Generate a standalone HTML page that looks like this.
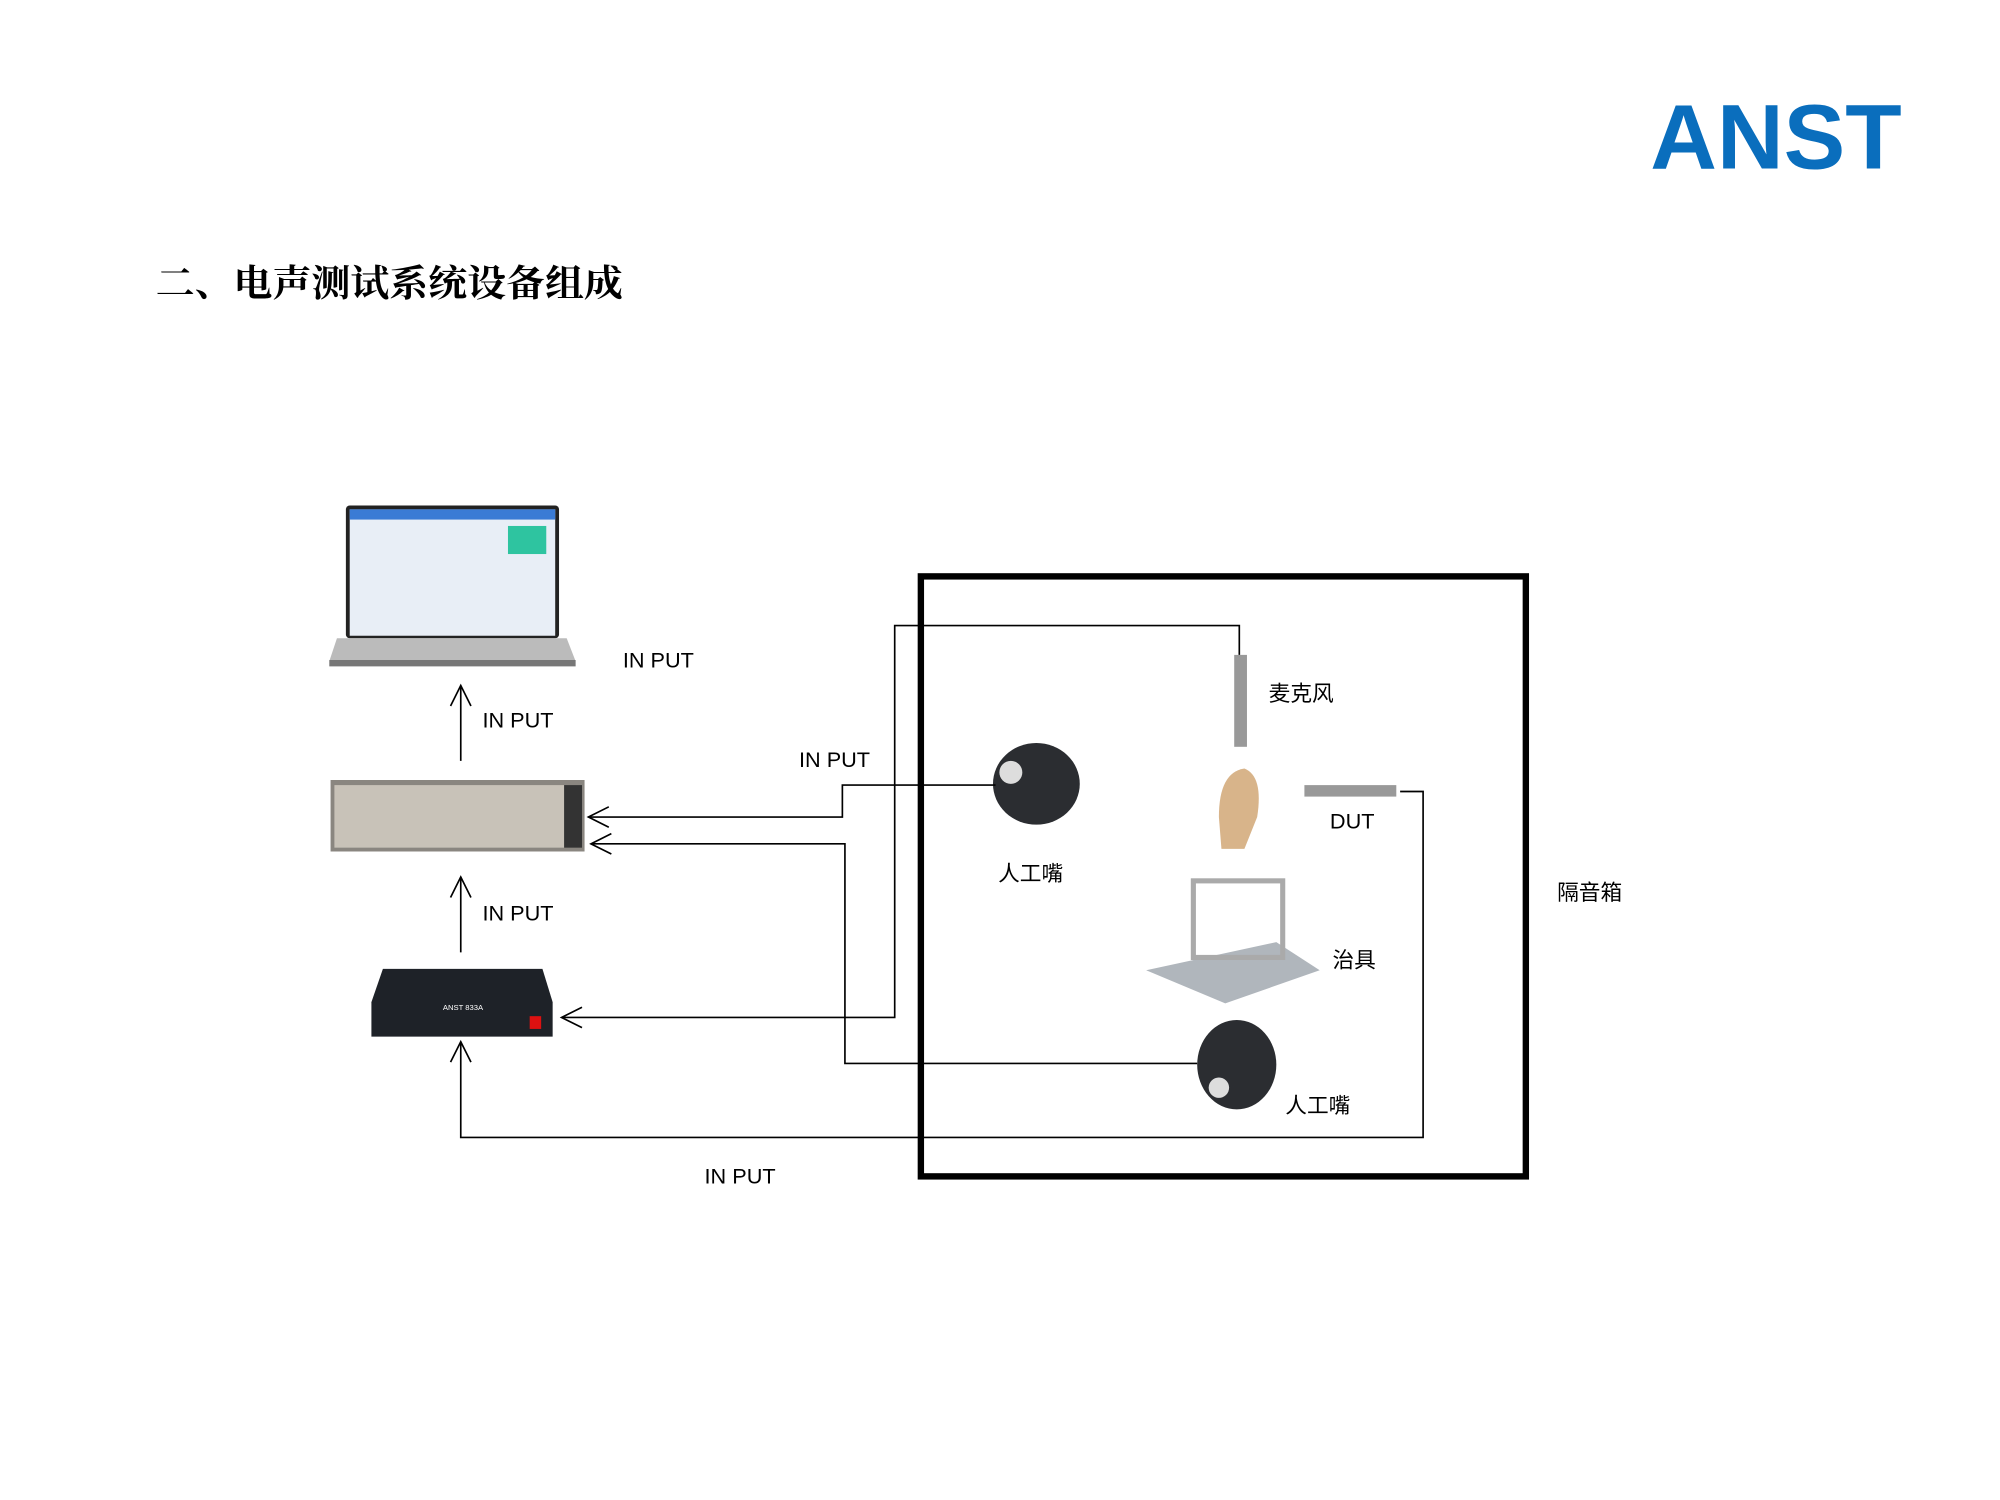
<!DOCTYPE html>
<html><head><meta charset="utf-8"><style>
html,body{margin:0;padding:0;background:#fff;}
svg{display:block;}
text{font-family:"Liberation Sans","Noto Sans CJK SC",sans-serif;}
.cn{font-family:"Liberation Serif","Noto Serif CJK SC",serif;}
</style></head><body>
<svg width="2000" height="1500" viewBox="0 0 1567 1175" preserveAspectRatio="none" xmlns="http://www.w3.org/2000/svg">
<defs>
<marker id="ar" markerWidth="20" markerHeight="20" refX="18" refY="10" orient="auto" markerUnits="userSpaceOnUse">
<path d="M2,2 L18,10 L2,18" fill="none" stroke="#000" stroke-width="1.3"/>
</marker>
</defs>
<text x="1293" y="132" font-size="72" font-weight="bold" fill="#0a6ebd" textLength="197" lengthAdjust="spacingAndGlyphs">ANST</text>
<text x="122" y="232" font-size="29" font-weight="bold" class="cn" textLength="366" lengthAdjust="spacingAndGlyphs">二、电声测试系统设备组成</text>

<rect x="721.5" y="451.5" width="474" height="470" fill="none" stroke="#000" stroke-width="5"/>

<!-- laptop -->
<rect x="271" y="396" width="167" height="104" fill="#222" rx="3"/>
<rect x="274" y="399" width="161" height="99" fill="#e8eef6"/>
<rect x="274" y="399" width="161" height="8" fill="#3a7bd5"/>
<rect x="398" y="412" width="30" height="22" fill="#2ec4a0"/>
<path d="M264,500 L444,500 L451,518 L258,518 Z" fill="#bbb"/>
<rect x="258" y="517" width="193" height="5" fill="#777"/>
<!-- analyzer -->
<rect x="259" y="611" width="199" height="56" fill="#8a8680"/>
<rect x="262" y="615" width="180" height="49" fill="#c8c2b8"/>
<rect x="442" y="615" width="14" height="49" fill="#333"/>
<!-- amplifier -->
<path d="M300,759 L425,759 L433,785 L433,812 L291,812 L291,785 Z" fill="#1e2228"/>
<text x="347" y="791" font-size="6" fill="#fff">ANST 833A</text>
<rect x="415" y="796" width="9" height="10" fill="#d11"/>
<!-- mouth 1 -->
<ellipse cx="812" cy="614" rx="34" ry="32" fill="#2b2d31"/>
<circle cx="792" cy="605" r="9" fill="#ddd"/>
<!-- mic -->
<rect x="967" y="513" width="10" height="72" fill="#999"/>
<!-- hearing aid -->
<path d="M955,640 Q955,605 975,602 Q990,608 985,640 L975,665 L957,665 Z" fill="#d8b48a"/>
<rect x="1022" y="615" width="72" height="9" fill="#999"/>
<!-- fixture -->
<path d="M898,760 L1000,738 L1034,760 L960,786 Z" fill="#b0b6bc"/>
<rect x="935" y="690" width="70" height="60" fill="none" stroke="#aaa" stroke-width="4"/>
<!-- mouth 2 -->
<ellipse cx="969" cy="834" rx="31" ry="35" fill="#2b2d31"/>
<circle cx="955" cy="852" r="8" fill="#ddd"/>

<g fill="none" stroke="#000" stroke-width="1.3">
<path d="M361,596 L361,537" marker-end="url(#ar)"/>
<path d="M361,746 L361,687" marker-end="url(#ar)"/>
<path d="M780,615 L660,615 L660,640 L461,640" marker-end="url(#ar)"/>
<path d="M938,833 L662,833 L662,661 L463,661" marker-end="url(#ar)"/>
<path d="M971,513 L971,490 L701,490 L701,797 L440,797" marker-end="url(#ar)"/>
<path d="M1097,620 L1115,620 L1115,891 L361,891 L361,816" marker-end="url(#ar)"/>
</g>

<g font-size="17" fill="#000">
<text x="488" y="523">IN PUT</text>
<text x="378" y="570">IN PUT</text>
<text x="626" y="601">IN PUT</text>
<text x="378" y="721">IN PUT</text>
<text x="552" y="927">IN PUT</text>
<text x="1042" y="649">DUT</text>
</g>
<g font-size="17" class="cn">
<text x="994" y="549">麦克风</text>
<text x="782" y="690">人工嘴</text>
<text x="1044" y="758">治具</text>
<text x="1007" y="872">人工嘴</text>
<text x="1220" y="705">隔音箱</text>
</g>
</svg>
</body></html>
